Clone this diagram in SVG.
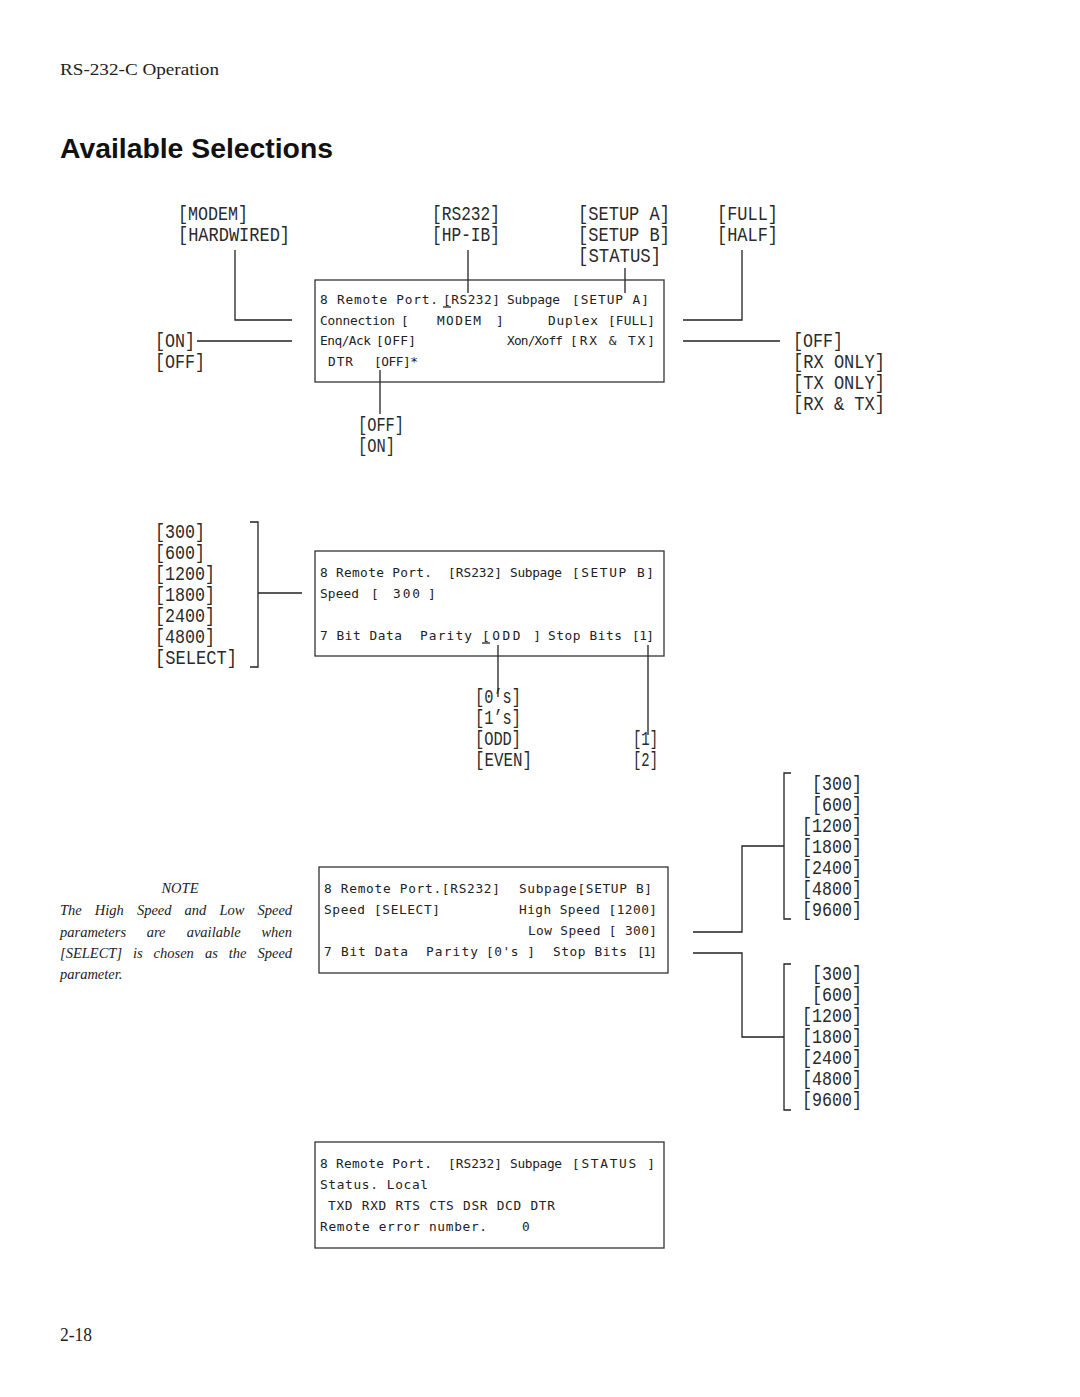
<svg xmlns="http://www.w3.org/2000/svg" width="1080" height="1397" viewBox="0 0 1080 1397">
<style>
.bg{fill:#ffffff}
.lbl{font-family:"Liberation Mono","DejaVu Sans Mono",monospace;font-size:20px;fill:#2a2a2a}
.scr{font-family:"DejaVu Sans Mono","Liberation Mono",monospace;font-size:12.8px;fill:#222}
.box{fill:none;stroke:#333;stroke-width:1.3}
.ln{fill:none;stroke:#222;stroke-width:1.3}
.note{font-family:"Liberation Serif","Times New Roman",serif;font-style:italic;font-size:14.5px;fill:#222}
</style>
<rect class="bg" x="0" y="0" width="1080" height="1397"/>
<g id="header">
<text x="60" y="75" font-family="Liberation Serif,serif" font-size="17" fill="#222" textLength="159" lengthAdjust="spacingAndGlyphs">RS-232-C Operation</text>
<text x="60" y="158" font-family="Liberation Sans,Arial,sans-serif" font-weight="bold" font-size="27" fill="#111" textLength="273" lengthAdjust="spacingAndGlyphs">Available Selections</text>
</g>
<g id="connectors">
<path class="ln" d="M235,250 V320 H292"/>
<path class="ln" d="M197,341 H292"/>
<path class="ln" d="M468,250 V293"/>
<path class="ln" d="M625,268 V293"/>
<path class="ln" d="M742,250 V320 H683"/>
<path class="ln" d="M683,341 H780"/>
<path class="ln" d="M380,370 V414"/>
<path class="ln" d="M250,522 H258 V667 H250"/>
<path class="ln" d="M258,593 H302"/>
<path class="ln" d="M498,645 V697"/>
<path class="ln" d="M648,645 V735"/>
<path class="ln" d="M693,932 H742 V846 H784"/>
<path class="ln" d="M791,773 H784 V919 H791"/>
<path class="ln" d="M693,953 H742 V1037 H784"/>
<path class="ln" d="M791,964 H784 V1110 H791"/>
</g>
<g id="conn-options">
<text class="lbl" x="178" y="220" textLength="70" lengthAdjust="spacingAndGlyphs">[MODEM]</text>
<text class="lbl" x="178" y="241" textLength="112" lengthAdjust="spacingAndGlyphs">[HARDWIRED]</text>
</g>
<g id="port-options">
<text class="lbl" x="432" y="220" textLength="68" lengthAdjust="spacingAndGlyphs">[RS232]</text>
<text class="lbl" x="432" y="241" textLength="68" lengthAdjust="spacingAndGlyphs">[HP-IB]</text>
</g>
<g id="subpage-options">
<text class="lbl" x="578" y="220" textLength="92" lengthAdjust="spacingAndGlyphs">[SETUP A]</text>
<text class="lbl" x="578" y="241" textLength="92" lengthAdjust="spacingAndGlyphs">[SETUP B]</text>
<text class="lbl" x="578" y="262" textLength="83" lengthAdjust="spacingAndGlyphs">[STATUS]</text>
</g>
<g id="duplex-options">
<text class="lbl" x="717" y="220" textLength="61" lengthAdjust="spacingAndGlyphs">[FULL]</text>
<text class="lbl" x="717" y="241" textLength="61" lengthAdjust="spacingAndGlyphs">[HALF]</text>
</g>
<g id="enq-options">
<text class="lbl" x="155" y="347" textLength="40" lengthAdjust="spacingAndGlyphs">[ON]</text>
<text class="lbl" x="155" y="368" textLength="50" lengthAdjust="spacingAndGlyphs">[OFF]</text>
</g>
<g id="xon-options">
<text class="lbl" x="793" y="347" textLength="50" lengthAdjust="spacingAndGlyphs">[OFF]</text>
<text class="lbl" x="793" y="368" textLength="92" lengthAdjust="spacingAndGlyphs">[RX ONLY]</text>
<text class="lbl" x="793" y="389" textLength="92" lengthAdjust="spacingAndGlyphs">[TX ONLY]</text>
<text class="lbl" x="793" y="410" textLength="92" lengthAdjust="spacingAndGlyphs">[RX &amp; TX]</text>
</g>
<g id="dtr-options">
<text class="lbl" x="358" y="431" textLength="46" lengthAdjust="spacingAndGlyphs">[OFF]</text>
<text class="lbl" x="358" y="452" textLength="37" lengthAdjust="spacingAndGlyphs">[ON]</text>
</g>
<g id="screen-setup-a">
<rect class="box" x="315" y="280" width="349" height="102"/>
<text class="scr" x="320" y="304" textLength="118">8 Remote Port.</text>
<text class="scr" x="443" y="304" textLength="57">[RS232]</text>
<path class="ln" d="M443,307 H451" stroke-width="1"/>
<text class="scr" x="507" y="304" textLength="53">Subpage</text>
<text class="scr" x="572" y="304" textLength="77">[SETUP A]</text>
<text class="scr" x="320" y="325" textLength="75">Connection</text>
<text class="scr" x="401" y="325">[</text>
<text class="scr" x="437" y="325" textLength="44">MODEM</text>
<text class="scr" x="496" y="325">]</text>
<text class="scr" x="548" y="325" textLength="50">Duplex</text>
<text class="scr" x="608" y="325" textLength="47">[FULL]</text>
<text class="scr" x="320" y="345" textLength="51">Enq/Ack</text>
<text class="scr" x="376" y="345" textLength="40">[OFF]</text>
<text class="scr" x="507" y="345" textLength="56">Xon/Xoff</text>
<text class="scr" x="570" y="345" textLength="85">[RX &amp; TX]</text>
<text class="scr" x="328" y="366" textLength="25">DTR</text>
<text class="scr" x="374" y="366" textLength="44">[OFF]*</text>
</g>
<g id="speed-options">
<text class="lbl" x="155" y="538" textLength="50" lengthAdjust="spacingAndGlyphs">[300]</text>
<text class="lbl" x="155" y="559" textLength="50" lengthAdjust="spacingAndGlyphs">[600]</text>
<text class="lbl" x="155" y="580" textLength="60" lengthAdjust="spacingAndGlyphs">[1200]</text>
<text class="lbl" x="155" y="601" textLength="60" lengthAdjust="spacingAndGlyphs">[1800]</text>
<text class="lbl" x="155" y="622" textLength="60" lengthAdjust="spacingAndGlyphs">[2400]</text>
<text class="lbl" x="155" y="643" textLength="60" lengthAdjust="spacingAndGlyphs">[4800]</text>
<text class="lbl" x="155" y="664" textLength="82" lengthAdjust="spacingAndGlyphs">[SELECT]</text>
</g>
<g id="screen-setup-b">
<rect class="box" x="315" y="551" width="349" height="105"/>
<text class="scr" x="320" y="577" textLength="112">8 Remote Port.</text>
<text class="scr" x="448" y="577" textLength="54">[RS232]</text>
<text class="scr" x="510" y="577" textLength="52">Subpage</text>
<text class="scr" x="572" y="577" textLength="82">[SETUP B]</text>
<text class="scr" x="320" y="598" textLength="39">Speed</text>
<text class="scr" x="371" y="598">[</text>
<text class="scr" x="393" y="598" textLength="27">300</text>
<text class="scr" x="428" y="598">]</text>
<text class="scr" x="320" y="640" textLength="82">7 Bit Data</text>
<text class="scr" x="420" y="640" textLength="52">Parity</text>
<text class="scr" x="482" y="640" textLength="59">[ODD ]</text>
<path class="ln" d="M482,643 H490" stroke-width="1"/>
<text class="scr" x="548" y="640" textLength="74">Stop Bits</text>
<text class="scr" x="632" y="640" textLength="22">[1]</text>
</g>
<g id="parity-options">
<text class="lbl" x="475" y="703" textLength="46" lengthAdjust="spacingAndGlyphs">[0’s]</text>
<text class="lbl" x="475" y="724" textLength="46" lengthAdjust="spacingAndGlyphs">[1’s]</text>
<text class="lbl" x="475" y="745" textLength="46" lengthAdjust="spacingAndGlyphs">[ODD]</text>
<text class="lbl" x="475" y="766" textLength="57" lengthAdjust="spacingAndGlyphs">[EVEN]</text>
</g>
<g id="stopbit-options">
<text class="lbl" x="633" y="745" textLength="25" lengthAdjust="spacingAndGlyphs">[1]</text>
<text class="lbl" x="633" y="766" textLength="25" lengthAdjust="spacingAndGlyphs">[2]</text>
</g>
<g id="note">
<text class="note" x="180" y="893" text-anchor="middle">NOTE</text>
<text class="note" y="915"><tspan x="60">The</tspan><tspan x="94.8">High</tspan><tspan x="136.9">Speed</tspan><tspan x="184.6">and</tspan><tspan x="219.4">Low</tspan><tspan x="257.5">Speed</tspan></text>
<text class="note" y="937"><tspan x="60">parameters</tspan><tspan x="146.7">are</tspan><tspan x="186.7">available</tspan><tspan x="261.4">when</tspan></text>
<text class="note" y="958"><tspan x="60">[SELECT]</tspan><tspan x="133">is</tspan><tspan x="153.6">chosen</tspan><tspan x="204.9">as</tspan><tspan x="228.7">the</tspan><tspan x="257.5">Speed</tspan></text>
<text class="note" x="60" y="979">parameter.</text>
</g>
<g id="screen-select">
<rect class="box" x="319" y="867" width="349" height="106"/>
<text class="scr" x="324" y="893" textLength="176">8 Remote Port.[RS232]</text>
<text class="scr" x="519" y="893" textLength="133">Subpage[SETUP B]</text>
<text class="scr" x="324" y="914" textLength="116">Speed [SELECT]</text>
<text class="scr" x="519" y="914" textLength="138">High Speed [1200]</text>
<text class="scr" x="528" y="935" textLength="129" xml:space="preserve">Low Speed [ 300]</text>
<text class="scr" x="324" y="956" textLength="84">7 Bit Data</text>
<text class="scr" x="426" y="956" textLength="52">Parity</text>
<text class="scr" x="486" y="956" textLength="49" xml:space="preserve">[0's ]</text>
<text class="scr" x="553" y="956" textLength="74">Stop Bits</text>
<text class="scr" x="637" y="956" textLength="20">[1]</text>
</g>
<g id="high-speed-options">
<text class="lbl" x="862" y="790" text-anchor="end" textLength="50" lengthAdjust="spacingAndGlyphs">[300]</text>
<text class="lbl" x="862" y="811" text-anchor="end" textLength="50" lengthAdjust="spacingAndGlyphs">[600]</text>
<text class="lbl" x="862" y="832" text-anchor="end" textLength="60" lengthAdjust="spacingAndGlyphs">[1200]</text>
<text class="lbl" x="862" y="853" text-anchor="end" textLength="60" lengthAdjust="spacingAndGlyphs">[1800]</text>
<text class="lbl" x="862" y="874" text-anchor="end" textLength="60" lengthAdjust="spacingAndGlyphs">[2400]</text>
<text class="lbl" x="862" y="895" text-anchor="end" textLength="60" lengthAdjust="spacingAndGlyphs">[4800]</text>
<text class="lbl" x="862" y="916" text-anchor="end" textLength="60" lengthAdjust="spacingAndGlyphs">[9600]</text>
</g>
<g id="low-speed-options">
<text class="lbl" x="862" y="980" text-anchor="end" textLength="50" lengthAdjust="spacingAndGlyphs">[300]</text>
<text class="lbl" x="862" y="1001" text-anchor="end" textLength="50" lengthAdjust="spacingAndGlyphs">[600]</text>
<text class="lbl" x="862" y="1022" text-anchor="end" textLength="60" lengthAdjust="spacingAndGlyphs">[1200]</text>
<text class="lbl" x="862" y="1043" text-anchor="end" textLength="60" lengthAdjust="spacingAndGlyphs">[1800]</text>
<text class="lbl" x="862" y="1064" text-anchor="end" textLength="60" lengthAdjust="spacingAndGlyphs">[2400]</text>
<text class="lbl" x="862" y="1085" text-anchor="end" textLength="60" lengthAdjust="spacingAndGlyphs">[4800]</text>
<text class="lbl" x="862" y="1106" text-anchor="end" textLength="60" lengthAdjust="spacingAndGlyphs">[9600]</text>
</g>
<g id="screen-status">
<rect class="box" x="315" y="1142" width="349" height="106"/>
<text class="scr" x="320" y="1168" textLength="112">8 Remote Port.</text>
<text class="scr" x="448" y="1168" textLength="54">[RS232]</text>
<text class="scr" x="510" y="1168" textLength="52">Subpage</text>
<text class="scr" x="572" y="1168" textLength="83" xml:space="preserve">[STATUS ]</text>
<text class="scr" x="320" y="1189" textLength="108">Status. Local</text>
<text class="scr" x="328" y="1210" textLength="227">TXD RXD RTS CTS DSR DCD DTR</text>
<text class="scr" x="320" y="1231" textLength="167">Remote error number.</text>
<text class="scr" x="522" y="1231">0</text>
</g>
<g id="footer">
<text x="60" y="1341" font-family="Liberation Serif,serif" font-size="19" fill="#222" textLength="32" lengthAdjust="spacingAndGlyphs">2-18</text>
</g>
</svg>
